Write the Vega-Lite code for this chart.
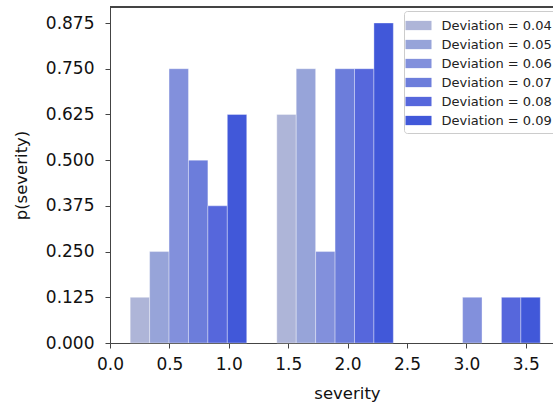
{
  "$schema": "https://vega.github.io/schema/vega-lite/v6.json",
  "width": 443,
  "height": 336,
  "autosize": "none",
  "padding": {"left": 110, "top": 7, "right": 0, "bottom": 61},
  "config": {
    "view": {"stroke": null},
    "font": "DejaVu Sans",
    "axis": {
      "domainColor": "#444",
      "domainWidth": 1,
      "tickColor": "#444",
      "tickWidth": 1,
      "tickSize": 5,
      "grid": false,
      "labelFont": "DejaVu Sans",
      "labelFontSize": 17,
      "labelColor": "#111",
      "titleFont": "DejaVu Sans",
      "titleFontSize": 16.5,
      "titleFontWeight": "normal",
      "titleColor": "#111"
    }
  },
  "data": {
    "values": [
      {"deviation": "Deviation = 0.04", "bin_start": 0.170, "bin_end": 0.3335, "p": 0.125},
      {"deviation": "Deviation = 0.05", "bin_start": 0.3335, "bin_end": 0.497, "p": 0.25},
      {"deviation": "Deviation = 0.06", "bin_start": 0.497, "bin_end": 0.6605, "p": 0.75},
      {"deviation": "Deviation = 0.07", "bin_start": 0.6605, "bin_end": 0.824, "p": 0.5},
      {"deviation": "Deviation = 0.08", "bin_start": 0.824, "bin_end": 0.9875, "p": 0.375},
      {"deviation": "Deviation = 0.09", "bin_start": 0.9875, "bin_end": 1.151, "p": 0.625},
      {"deviation": "Deviation = 0.04", "bin_start": 1.404, "bin_end": 1.5675, "p": 0.625},
      {"deviation": "Deviation = 0.05", "bin_start": 1.5675, "bin_end": 1.731, "p": 0.75},
      {"deviation": "Deviation = 0.06", "bin_start": 1.731, "bin_end": 1.8945, "p": 0.25},
      {"deviation": "Deviation = 0.07", "bin_start": 1.8945, "bin_end": 2.058, "p": 0.75},
      {"deviation": "Deviation = 0.08", "bin_start": 2.058, "bin_end": 2.2215, "p": 0.75},
      {"deviation": "Deviation = 0.09", "bin_start": 2.2215, "bin_end": 2.385, "p": 0.875},
      {"deviation": "Deviation = 0.06", "bin_start": 2.968, "bin_end": 3.1315, "p": 0.125},
      {"deviation": "Deviation = 0.08", "bin_start": 3.295, "bin_end": 3.4585, "p": 0.125},
      {"deviation": "Deviation = 0.09", "bin_start": 3.4585, "bin_end": 3.622, "p": 0.125}
    ]
  },
  "layer": [
    {
      "mark": {"type": "bar", "orient": "vertical", "stroke": "#ffffff", "strokeOpacity": 0.35, "strokeWidth": 1},
      "encoding": {
        "x": {
          "field": "bin_start",
          "type": "quantitative",
          "title": "severity",
          "scale": {"domain": [0, 3.729], "nice": false, "zero": false, "padding": 0},
          "axis": {"values": [0, 0.5, 1, 1.5, 2, 2.5, 3, 3.5], "format": ".1f", "labelPadding": 8, "titleX": 237, "titleY": 55, "titleBaseline": "alphabetic", "labelFlush": false}
        },
        "x2": {"field": "bin_end"},
        "y": {
          "field": "p",
          "type": "quantitative",
          "title": "p(severity)",
          "scale": {"domain": [0, 0.91875], "nice": false, "padding": 0},
          "axis": {"values": [0, 0.125, 0.25, 0.375, 0.5, 0.625, 0.75, 0.875], "format": ".3f", "labelPadding": 11, "titlePadding": 16, "labelFlush": false}
        },
        "y2": {"datum": 0},
        "color": {
          "field": "deviation",
          "type": "nominal",
          "scale": {
            "domain": ["Deviation = 0.04", "Deviation = 0.05", "Deviation = 0.06", "Deviation = 0.07", "Deviation = 0.08", "Deviation = 0.09"],
            "range": ["#aeb5d8", "#97a4d9", "#8290dc", "#6c7ddb", "#5667dc", "#4158d9"]
          },
          "legend": {
            "title": null,
            "orient": "none",
            "legendX": 294,
            "legendY": 4,
            "symbolType": "M-1.4,-0.5H1.4V0.5H-1.4Z",
            "symbolSize": 345,
            "symbolStrokeWidth": 0,
            "symbolOpacity": 1,
            "labelFont": "DejaVu Sans",
            "labelFontSize": 13,
            "labelColor": "#222",
            "labelOffset": 13.5,
            "strokeColor": "#cccccc",
            "fillColor": "rgba(255,255,255,0.8)",
            "cornerRadius": 3,
            "padding": 5,
            "rowPadding": 2
          }
        }
      }
    },
    {
      "mark": {"type": "rule", "color": "#444", "strokeWidth": 1},
      "encoding": {
        "y": {"datum": 0.91875, "type": "quantitative"}
      }
    }
  ]
}
